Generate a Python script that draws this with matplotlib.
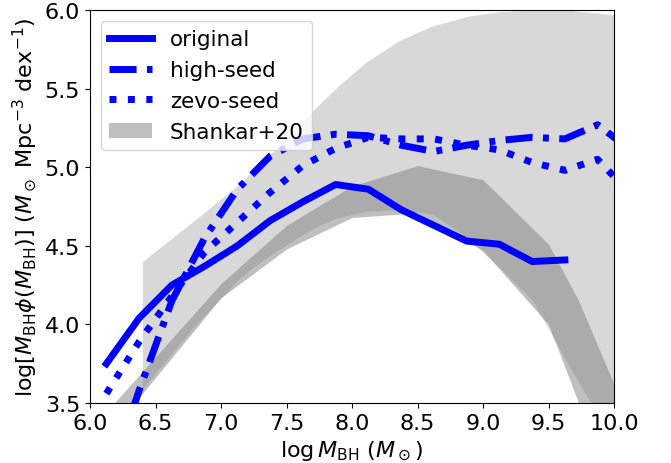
import matplotlib
matplotlib.use("Agg")
import matplotlib.pyplot as plt
import numpy as np

# black hole mass bins (log M_BH)
mbins = [6.125, 6.375, 6.625, 6.875, 7.125, 7.375, 7.625, 7.875, 8.125,
         8.375, 8.625, 8.875, 9.125, 9.375, 9.625, 9.875, 10.125]

original = [3.75, 4.04, 4.25, 4.37, 4.50, 4.66, 4.78, 4.89, 4.86,
            4.73, 4.63, 4.53, 4.51, 4.40, 4.41]
high_seed = [2.95, 3.58, 4.15, 4.55, 4.86, 5.07, 5.18, 5.21, 5.20,
             5.14, 5.10, 5.14, 5.17, 5.19, 5.18, 5.27, 5.11]
zevo_seed = [3.56, 3.89, 4.18, 4.46, 4.65, 4.84, 5.01, 5.12, 5.19,
             5.18, 5.18, 5.14, 5.11, 5.03, 4.98, 5.05, 4.83]

# Shankar+20 band
sh_x = [6.1, 6.4, 7.0, 7.5, 8.0, 8.5, 9.0, 9.5, 9.73, 10.0]
sh_hi = [3.42, 3.70, 4.26, 4.63, 4.88, 5.01, 4.92, 4.51, 4.15, 3.62]
sh_lo = [3.27, 3.56, 4.17, 4.48, 4.68, 4.71, 4.47, 4.00, 3.50, 2.90]

# wide light band
wb_x = [6.4, 6.81, 7.15, 7.32, 7.45, 7.6, 7.75, 7.9, 8.11, 8.37, 8.62, 8.88, 9.13, 9.38, 9.64, 10.0]
wb_hi = [4.40, 4.67, 4.90, 5.04, 5.14, 5.27, 5.40, 5.52, 5.67, 5.81, 5.90, 5.96, 5.99, 6.0, 6.0, 5.97]
wb_lo = [3.59, 4.00, 4.30, 4.41, 4.48, 4.56, 4.63, 4.68, 4.72, 4.73, 4.70, 4.55, 4.36, 4.15, 3.76, 3.25]

fig = plt.figure(figsize=(6.71, 4.64), dpi=100)
ax = fig.add_axes([90/671, 1-404/464, 524/671, 393/464])

ax.fill_between(wb_x, wb_lo, wb_hi, color='gray', alpha=0.3, lw=0)
ax.fill_between(sh_x, sh_lo, sh_hi, color='gray', alpha=0.5, lw=0, label='Shankar+20')

ax.plot(mbins[:len(original)], original, color='b', lw=5, label='original')
ax.plot(mbins, high_seed, color='b', lw=5, ls=(0, (3.9, 1.5, 0.85, 1.5)), label='high-seed')
ax.plot(mbins, zevo_seed, color='b', lw=5, ls=':', label='zevo-seed')

ax.set_xlim(6.0, 10.0)
ax.set_ylim(3.5, 6.0)
ax.set_xticks(np.arange(6.0, 10.01, 0.5))
ax.set_yticks(np.arange(3.5, 6.01, 0.5))
ax.tick_params(labelsize=16)
ax.set_xlabel(r'log$\,M_{\rm BH}$ ($M_\odot$)', fontsize=16)
ax.set_ylabel(r'log[$M_{\rm BH}\phi(M_{\rm BH})$] ($M_\odot$ Mpc$^{-3}$ dex$^{-1}$)', fontsize=16)

h, l = ax.get_legend_handles_labels()
order = [1, 2, 3, 0]
ax.legend([h[i] for i in order], [l[i] for i in order], loc='upper left', fontsize=15.5)

fig.savefig('out.png', dpi=100)
